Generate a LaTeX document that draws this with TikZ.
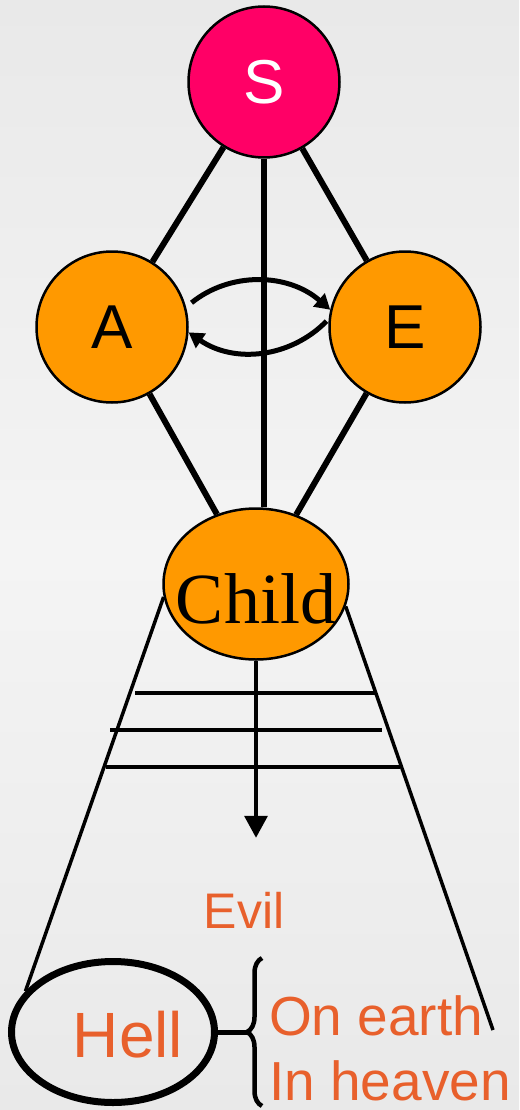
\documentclass[tikz,border=0pt]{standalone}
\usepackage{fontspec}
\usetikzlibrary{arrows.meta,shapes.geometric,decorations.pathreplacing}
\newfontfamily\lsans{Liberation Sans}
\newfontfamily\lserif{Liberation Serif}
\definecolor{rose}{HTML}{FF0066}
\definecolor{amber}{HTML}{FF9900}
\definecolor{rust}{HTML}{E8602C}
\definecolor{paper}{HTML}{E9E9E9}
\definecolor{paperlight}{HTML}{F4F4F4}

\begin{document}
\begin{tikzpicture}[x=1pt, y=-1pt,
		ball/.style={circle, draw, line width=2.5pt, minimum size=151pt, inner sep=0pt, fill=amber,
			font=\lsans\fontsize{62}{62}\selectfont},
		tie/.style={line width=6pt},
		rail/.style={line width=3.5pt},
		swap/.style={line width=5pt, -{Triangle[length=15pt, width=17pt]}},
		word/.style={text=rust, inner sep=0pt, font=\lsans\fontsize{55}{55}\selectfont}]
		\shade[top color=paper, bottom color=paper, middle color=paperlight] (0,0) rectangle (519,1110);
		\useasboundingbox (0,0) rectangle (519,1110);
		\node [ball, fill=rose, text=white] (s) at (264,82) {S};
		\node [ball] (a) at (112,327) {A};
		\node [ball] (e) at (405,327) {E};
		\node [ellipse, draw, line width=2.5pt, fill=amber, minimum width=185pt, minimum height=151pt] (child) at (256,584) {};
		\node [font=\lserif\fontsize{72}{72}\selectfont] (name) at (256,599) {Child};
		\draw[tie] (s) -- (a);
		\draw[tie] (s) -- (e);
		\draw[tie] (s.south) -- (s.south |- child.north);
		\draw[tie] (a) -- (child);
		\draw[tie] (e) -- (child);
		\draw[swap, shorten <=7pt] (a.15) to[bend left=40] (e.167);
		\draw[swap, shorten <=3pt] (e.174) to[bend left=40] (a.356);
		\draw[rail] (135,693) -- ++(240,0);
		\draw[rail] (110,730) -- ++(272,0);
		\draw[rail] (106,767) -- ++(294,0);
		\draw[rail, -{Triangle[length=22pt, width=23pt]}] (child.south) -- ++(0,177);
		\node [word, font=\lsans\fontsize{50}{50}\selectfont, anchor=base] (evil) at (244,928) {Evil};
		\node [ellipse, draw, line width=7pt, minimum width=203pt, minimum height=141pt] (hell) at (113,1032) {};
		\node [word, font=\lsans\fontsize{64}{64}\selectfont] (place) at (128,1035) {Hell};
		\coordinate (rim) at (493,1030);
		\draw[rail] (child.188) -- (hell.155);
		\draw[rail] (child.346) -- (rim);
		\coordinate (tip) at (247,1032);
		\draw[line width=5pt] (hell.east) -- (tip);
		\draw[line width=4.5pt, decorate, decoration={brace, amplitude=15pt}] (262,1106) -- (262,958);
		\node [word, anchor=base west] (earth) at (269,1035) {On earth};
		\node [word, anchor=base west] (heaven) at (269,1100) {In heaven};
	\end{tikzpicture}
\end{document}
